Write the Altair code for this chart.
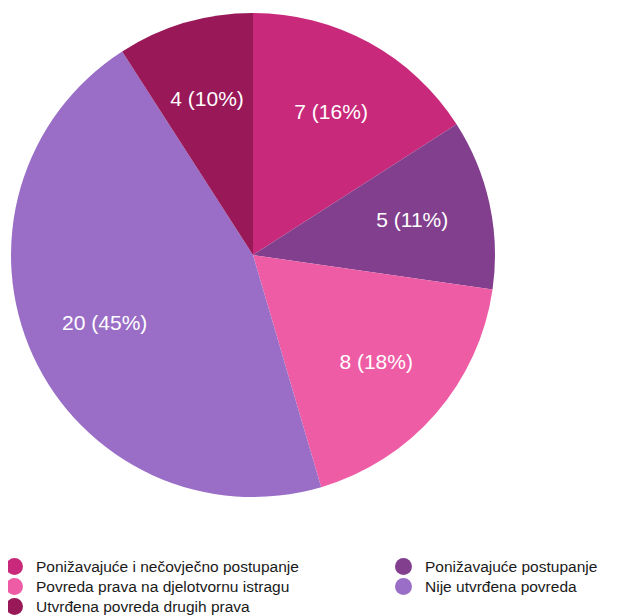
import altair as alt
import pandas as pd

categories = [
    "Ponižavajuće i nečovječno postupanje",
    "Ponižavajuće postupanje",
    "Povreda prava na djelotvornu istragu",
    "Nije utvrđena povreda",
    "Utvrđena povreda drugih prava",
]
counts = [7, 5, 8, 20, 4]
labels = ["7 (16%)", "5 (11%)", "8 (18%)", "20 (45%)", "4 (10%)"]
colors = ["#C9297A", "#823F8E", "#EE5CA5", "#9A6EC6", "#981858"]

# legend fills column by column: left column gets items 1, 3, 5; right column 2, 4
legend_order = [0, 2, 4, 1, 3]
legend_domain = [categories[i] for i in legend_order]
legend_range = [colors[i] for i in legend_order]

df = pd.DataFrame({
    "category": categories,
    "count": counts,
    "label": labels,
    "order": list(range(len(categories))),
})

base = alt.Chart(df).encode(
    theta=alt.Theta("count:Q", stack=True),
    order=alt.Order("order:Q", sort="ascending"),
)

arcs = base.mark_arc(radius=242).encode(
    color=alt.Color(
        "category:N",
        scale=alt.Scale(domain=legend_domain, range=legend_range),
        legend=alt.Legend(
            title=None,
            orient="none",
            legendX=-2,
            legendY=550,
            columns=2,
            columnPadding=96,
            rowPadding=3,
            symbolType="circle",
            symbolSize=289,
            symbolStrokeWidth=0,
            labelFontSize=15.5,
            labelFont="Liberation Sans",
            labelColor="#1a1a1a",
            labelOffset=13,
            labelLimit=0,
            padding=0,
        ),
    )
)

text = base.mark_text(
    radius=163, fontSize=21, color="white", font="Liberation Sans", dy=1
).encode(text="label:N")

chart = (arcs + text).properties(
    width=490,
    height=494,
    padding={"left": 0, "top": 0, "right": 121, "bottom": 114},
    autosize=alt.AutoSizeParams(type="none"),
).configure_view(stroke=None)

chart.save("out.html", embed_options={"renderer": "svg", "actions": False})
